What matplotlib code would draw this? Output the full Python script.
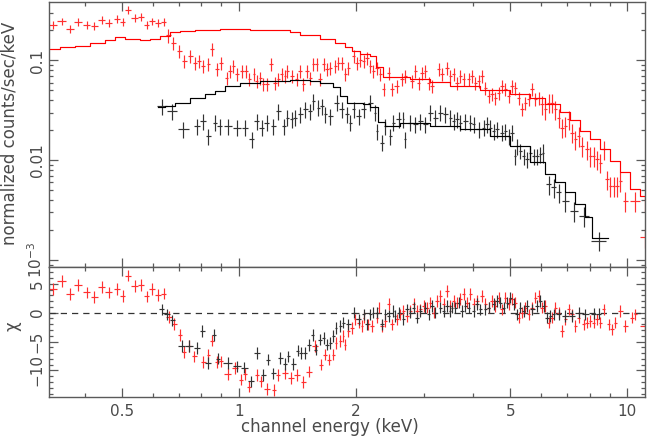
import numpy as np
import matplotlib
matplotlib.use("Agg")
import matplotlib.pyplot as plt
from matplotlib.ticker import FixedLocator, FixedFormatter, NullFormatter, MultipleLocator, LogLocator

# ---------------- data ----------------
# red spectrum: energy (keV), normalized counts/sec/keV
red_E = [0.331, 0.349, 0.367, 0.385, 0.405, 0.424, 0.443, 0.462, 0.484, 0.501, 0.519, 0.538, 0.558, 0.578, 0.598, 0.619, 0.639,
         0.657, 0.677, 0.702, 0.723, 0.748, 0.770, 0.789, 0.809, 0.834, 0.853, 0.876, 0.899, 0.930, 0.948, 0.967, 0.990, 1.016, 1.042, 1.063, 1.093,
         1.111, 1.133, 1.155, 1.179, 1.207, 1.238, 1.263, 1.288, 1.314, 1.332, 1.367, 1.408, 1.436, 1.465, 1.495, 1.524, 1.554, 1.586, 1.617, 1.650,
         1.683, 1.717,
         1.768, 1.803, 1.840, 1.876, 1.913, 1.971, 2.012, 2.051, 2.092, 2.134, 2.176, 2.219, 2.264, 2.309, 2.355, 2.426, 2.475, 2.550, 2.627, 2.678,
         2.787, 2.842, 2.898, 2.957, 3.015, 3.075, 3.137, 3.264, 3.330, 3.430, 3.498, 3.567, 3.640, 3.712, 3.785, 3.899, 3.978, 4.057, 4.138, 4.222,
         4.305, 4.390, 4.480, 4.569, 4.660, 4.755, 4.849, 4.945, 5.045, 5.145, 5.248, 5.354, 5.460, 5.568, 5.682, 5.794, 5.908, 6.029, 6.148, 6.270,
         6.396, 6.523, 6.652, 6.788, 6.922, 7.059, 7.203, 7.345, 7.491, 7.643, 7.873, 8.029, 8.188, 8.356, 8.521, 8.689, 8.867, 9.042, 9.220, 9.408,
         9.594, 9.881, 10.49, 11.13]
red_F = [0.229, 0.247, 0.207, 0.242, 0.229, 0.224, 0.257, 0.238, 0.261, 0.242, 0.324, 0.267, 0.274, 0.229, 0.247, 0.238, 0.242,
         0.178, 0.150, 0.124, 0.0984, 0.110, 0.0948, 0.0984, 0.0877, 0.0912, 0.129, 0.0813, 0.0948, 0.0671, 0.0782, 0.0877, 0.0724, 0.0782, 0.0782, 0.0646, 0.0724,
         0.0621, 0.0671, 0.0575, 0.0575, 0.0912, 0.0598, 0.0646, 0.0724, 0.0697, 0.0782, 0.0697, 0.0646, 0.0782, 0.0575, 0.0782, 0.0671, 0.0912, 0.0912, 0.0646, 0.0912,
         0.0813, 0.0845,
         0.0877, 0.0948, 0.0948, 0.0724, 0.0845, 0.110, 0.0948, 0.102, 0.0984, 0.106, 0.0877, 0.0782, 0.0845, 0.0724, 0.0513, 0.0753, 0.0513, 0.0553, 0.0646, 0.0697,
         0.0621, 0.0782, 0.0598, 0.0753, 0.0782, 0.0598, 0.0553, 0.0813, 0.0724, 0.0845, 0.0697, 0.0724, 0.0598, 0.0697, 0.0646, 0.0646, 0.0697, 0.0598, 0.0621, 0.0697,
         0.0533, 0.0440, 0.0457, 0.0424, 0.0475, 0.0553, 0.0513, 0.0440, 0.0553, 0.0533, 0.0424, 0.0324, 0.0378, 0.0407, 0.0513, 0.0407, 0.0424, 0.0363, 0.0324, 0.0378,
         0.0378, 0.0324, 0.0267, 0.0212, 0.0220, 0.0257, 0.0189, 0.0162, 0.0175, 0.0139, 0.0129, 0.0110, 0.0110, 0.0102, 0.00948, 0.0129, 0.00646, 0.00553, 0.00553, 0.00553,
         0.00621, 0.00392, 0.00392, 0.00169]

# black spectrum
blk_E = [0.632, 0.671, 0.719, 0.778, 0.806, 0.834, 0.867, 0.893, 0.938, 0.987, 1.036, 1.078, 1.111, 1.144, 1.179, 1.226, 1.263, 1.306, 1.332, 1.367,
         1.394, 1.436, 1.479, 1.524, 1.554, 1.601, 1.634, 1.666, 1.717,
         1.786, 1.840, 1.895, 1.932, 1.971, 2.031, 2.092, 2.176, 2.241, 2.264, 2.332, 2.378, 2.450, 2.498, 2.574, 2.651, 2.678, 2.759, 2.842, 2.928,
         3.015, 3.107, 3.201, 3.296, 3.396, 3.498, 3.567, 3.640, 3.712, 3.824, 3.939, 4.018, 4.138, 4.263, 4.350, 4.436, 4.523, 4.616, 4.755, 4.849,
         4.945, 5.045, 5.145, 5.196, 5.299, 5.404, 5.514, 5.623, 5.735, 5.852, 5.968, 6.064, 6.270, 6.458, 6.652, 6.922, 7.272, 7.718, 8.433]
blk_F = [0.0349, 0.0311, 0.0204, 0.0220, 0.0247, 0.0175, 0.0238, 0.0220, 0.0220, 0.0212, 0.0212, 0.0162, 0.0247, 0.0212, 0.0238, 0.0220, 0.0311, 0.0220, 0.0267, 0.0257,
         0.0267, 0.0288, 0.0324, 0.0311, 0.0392, 0.0337, 0.0349, 0.0288, 0.0277,
         0.0378, 0.0324, 0.0288, 0.0238, 0.0324, 0.0277, 0.0324, 0.0378, 0.0300, 0.0196, 0.0150, 0.0220, 0.0175, 0.0238, 0.0257, 0.0257, 0.0162, 0.0238, 0.0229, 0.0247,
         0.0229, 0.0300, 0.0267, 0.0300, 0.0288, 0.0267, 0.0247, 0.0257, 0.0238, 0.0247, 0.0238, 0.0229, 0.0204, 0.0212, 0.0229, 0.0212, 0.0196, 0.0204, 0.0189, 0.0196,
         0.0175, 0.0189, 0.0110, 0.0139, 0.0124, 0.0110, 0.0102, 0.0119, 0.0110, 0.0110, 0.0115, 0.0119, 0.00575, 0.00533, 0.00475, 0.00392, 0.00311, 0.00277, 0.00156]

# fractional 1-sigma errors of the spectra (energy break points, fractions)
red_err_breaks = [0.65, 6.0]
red_err_frac = [0.09, 0.15, 0.22]
blk_err_breaks = [6.0]
blk_err_frac = [0.18, 0.22]

# folded models (step curves)
red_mE = [0.324, 0.346, 0.378, 0.413, 0.452, 0.479, 0.508, 0.556, 0.590, 0.626, 0.664, 0.705, 0.770, 0.893, 1.067, 1.202, 1.353, 1.436,
          1.617, 1.768, 1.876, 1.955, 2.051, 2.176, 2.255, 2.350, 2.540, 2.759, 3.107, 3.498, 4.180, 4.994, 5.623, 6.148, 6.722, 7.131,
          7.567, 8.029, 8.521, 9.042, 9.594, 10.18, 10.80, 11.13]
red_mF = [0.131, 0.135, 0.141, 0.151, 0.162, 0.170, 0.166, 0.162, 0.166, 0.176, 0.191, 0.197, 0.204, 0.207, 0.204, 0.200, 0.191, 0.182,
          0.165, 0.151, 0.138, 0.123, 0.117, 0.110, 0.0851, 0.0676, 0.0687, 0.0646, 0.0603, 0.0550, 0.0501, 0.0457, 0.0417, 0.0363, 0.0302, 0.0251,
          0.0195, 0.0162, 0.0129, 0.00977, 0.00759, 0.00513, 0.00437, 0.00309]
blk_mE = [0.618, 0.645, 0.684, 0.748, 0.817, 0.867, 0.920, 1.006, 1.133, 1.353, 1.524, 1.617, 1.747, 1.821, 1.898, 2.088, 2.176, 2.281,
          2.378, 2.600, 3.107, 3.712, 4.436, 4.994, 5.623, 6.148, 6.523, 6.922, 7.345, 7.795, 8.126, 8.933]
blk_mF = [0.0339, 0.0347, 0.0372, 0.0417, 0.0457, 0.0490, 0.0550, 0.0589, 0.0617, 0.0631, 0.0617, 0.0598, 0.0537, 0.0440, 0.0372, 0.0363, 0.0339, 0.0240,
          0.0220, 0.0238, 0.0219, 0.0204, 0.0174, 0.0138, 0.00955, 0.00724, 0.00603, 0.00479, 0.00363, 0.00269, 0.00166, 0.00166]

# residuals (chi)
red_rE = [0.331, 0.349, 0.367, 0.385, 0.405, 0.424, 0.443, 0.462, 0.484, 0.501, 0.519, 0.538, 0.558, 0.578, 0.598, 0.619, 0.639,
          0.660, 0.681, 0.705, 0.723, 0.743, 0.767, 0.809, 0.834, 0.853, 0.876, 0.899, 0.935, 0.976, 1.012, 1.036, 1.061, 1.111, 1.139,
          1.179, 1.233, 1.263, 1.314, 1.361, 1.408, 1.465, 1.515, 1.570, 1.627, 1.666, 1.706, 1.750, 1.778, 1.821, 1.857,
          1.876, 1.913, 1.952, 1.991, 2.031, 2.072, 2.092, 2.154, 2.198, 2.264, 2.286, 2.332, 2.378, 2.426, 2.475, 2.550, 2.600, 2.651,
          2.705, 2.759, 2.814, 2.871, 2.928, 2.985, 3.047, 3.107, 3.168, 3.232, 3.296, 3.361, 3.430, 3.498, 3.567, 3.640, 3.712, 3.785,
          3.863, 3.939, 4.018, 4.099, 4.222, 4.305, 4.390, 4.480, 4.569, 4.660, 4.755, 4.849, 4.945, 5.045, 5.145, 5.248, 5.354, 5.460,
          5.568, 5.682, 5.794, 5.908, 6.029, 6.148, 6.270, 6.396, 6.523, 6.652, 6.788, 6.922, 7.059, 7.203, 7.345, 7.491, 7.718, 7.873,
          8.029, 8.188, 8.356, 8.521, 8.689, 8.950, 9.134, 9.314, 9.594, 9.881, 10.28, 10.49, 11.13]
red_chi = [4.07, 5.52, 3.2, 4.8, 3.5, 2.7, 4.4, 3.5, 4.07, 2.9, 6.4, 4.65, 4.8, 2.8, 4.07, 3.08, 3.3,
           -0.76, -1.92, -3.9, -6.8, -5.8, -7.56, -8.55, -7.27, -4.83, -8.55, -8.43, -10.6, -9.6, -11.6, -10.6, -12.8, -10.8, -11.9,
           -13.2, -13.4, -10.8, -10.5, -11.3, -10.8, -12.0, -10.2, -5.8, -9.0, -7.27, -8.14, -7.27, -5.23, -4.94, -4.07,
           -5.52, -3.2, -2.62, -1.16, -1.74, -2.33, -0.87, -2.03, -2.33, -0.87, 0.87, -2.33, -1.45, 1.45, -2.03, -1.16, -0.29, 0.29,
           -0.58, 0.29, 1.45, 0.29, 0.58, 1.16, 0.87, 1.74, 0.0, 2.03, 2.91, 1.45, 3.78, 1.16, 2.03, 1.74, 2.33, 3.2,
           1.74, 3.2, 1.45, 2.03, 2.91, 1.45, 0.87, 2.03, 1.16, 2.62, 0.58, 2.62, 1.45, 2.33, 1.74, -0.87, 0.0, 0.87,
           -0.29, 0.87, 2.62, 2.91, 0.87, 1.16, -1.74, -0.87, 0.87, 0.0, -3.2, -1.16, 0.58, -0.29, -2.33, -0.87, -2.03, -1.74,
           -1.45, -1.74, -1.16, -1.74, 0.58, -2.03, -2.91, -1.74, 0.29, -2.33, -0.87, -0.29, -2.33]
blk_rE = [0.632, 0.652, 0.673, 0.711, 0.743, 0.778, 0.804, 0.834, 0.864, 0.884, 0.935, 0.987, 1.032, 1.074, 1.111, 1.155, 1.186, 1.226,
          1.276, 1.314, 1.340, 1.380, 1.417, 1.445, 1.479, 1.515, 1.548, 1.577, 1.617, 1.650, 1.683, 1.717, 1.750, 1.775, 1.821, 1.857,
          1.913, 1.971, 2.031, 2.092, 2.134, 2.176, 2.219, 2.264, 2.332, 2.378, 2.426, 2.498, 2.524, 2.574, 2.651, 2.705, 2.759, 2.814,
          2.871, 2.928, 3.015, 3.075, 3.137, 3.201, 3.296, 3.361, 3.430, 3.498, 3.533, 3.603, 3.675, 3.748, 3.824, 3.901, 4.018, 4.099,
          4.180, 4.305, 4.390, 4.523, 4.616, 4.709, 4.803, 4.901, 4.994, 5.094, 5.196, 5.299, 5.404, 5.514, 5.682, 5.852, 5.968, 6.087,
          6.208, 6.331, 6.458, 6.652, 6.922, 7.203, 7.491, 7.795, 8.188, 8.433]
blk_chi = [0.58, -0.29, -1.34, -5.8, -5.8, -6.1, -3.2, -8.7, -3.9, -7.97, -8.7, -9.3, -9.5, -11.9, -7.0, -10.8, -8.14, -10.5,
           -7.85, -8.9, -7.56, -8.9, -6.57, -6.98, -6.98, -5.64, -3.9, -6.4, -4.65, -4.36, -5.52, -5.23, -4.07, -2.62, -2.33, -1.74,
           -2.03, 0.0, -1.16, -0.29, -2.03, -0.29, 0.0, 0.0, -2.03, -0.29, -0.58, 0.29, -0.58, 0.0, -1.16, 0.58, 0.0, 0.87,
           -0.87, 0.29, 0.87, -0.29, 1.16, 0.0, 0.87, 0.29, 1.16, 0.29, 0.87, 0.87, 1.74, 0.29, 1.16, 0.87, 0.29, 1.45,
           0.58, 0.58, 0.87, 1.45, 2.03, 1.74, 0.87, 1.74, 2.62, 1.45, -0.29, 0.87, 0.29, 1.16, 0.58, 1.16, 2.03, 1.16,
           -0.87, -0.58, -0.29, -0.29, -0.58, -0.58, 0.0, -0.29, -0.17, -0.17]

x_ticks_labelled = [0.5, 1, 2, 5, 10]
x_tick_text = ["0.5", "1", "2", "5", "10"]

# ---------------- helpers ----------------
def bin_halfwidths(e):
    e = np.asarray(e, float)
    le = np.log10(e)
    d = np.diff(le)
    left = np.concatenate([[d[0]], d])
    right = np.concatenate([d, [d[-1]]])
    h = 0.5 * np.minimum(left, right)
    return np.vstack([e - 10 ** (le - h), 10 ** (le + h) - e])

def frac_err(e, breaks, fracs):
    idx = np.searchsorted(breaks, e)
    return np.asarray(fracs)[idx]

# ---------------- figure ----------------
TXT = "#4a4a4a"
FRAME = "#5a5a5a"
RED = "#ff3030"
BLK = "#333333"
plt.rcParams["font.family"] = ["DejaVu Sans"]
plt.rcParams["font.size"] = 11
plt.rcParams["mathtext.default"] = "regular"

fig = plt.figure(figsize=(6.5, 4.36), dpi=100)
ax1 = fig.add_axes([0.07538, 0.38761, 0.91692, 0.60894])
ax2 = fig.add_axes([0.07538, 0.08945, 0.91692, 0.29817], sharex=ax1)

rE = np.array(red_E); rF = np.array(red_F)
bE = np.array(blk_E); bF = np.array(blk_F)

ax1.errorbar(rE, rF, xerr=bin_halfwidths(rE), yerr=rF * frac_err(rE, red_err_breaks, red_err_frac),
             fmt="none", ecolor=RED, elinewidth=0.85, capsize=0)
ax1.errorbar(bE, bF, xerr=bin_halfwidths(bE), yerr=bF * frac_err(bE, blk_err_breaks, blk_err_frac),
             fmt="none", ecolor=BLK, elinewidth=0.85, capsize=0)
ax1.plot(red_mE, red_mF, drawstyle="steps-post", color="#ff0000", lw=0.85)
ax1.plot(blk_mE, blk_mF, drawstyle="steps-post", color="#000000", lw=0.85)

ax2.axhline(0, color="#333333", lw=0.9, ls=(0, (5, 4)))
ax2.errorbar(red_rE, red_chi, xerr=bin_halfwidths(red_rE), yerr=1.0,
             fmt="none", ecolor=RED, elinewidth=0.85, capsize=0)
ax2.errorbar(blk_rE, blk_chi, xerr=bin_halfwidths(blk_rE), yerr=1.0,
             fmt="none", ecolor=BLK, elinewidth=0.85, capsize=0)

for ax in (ax1, ax2):
    ax.set_xscale("log")
    for s in ax.spines.values():
        s.set_color(FRAME)
        s.set_linewidth(1.0)
    ax.tick_params(which="both", direction="in", top=True, right=True, color=FRAME, width=0.9,
                   labelcolor=TXT, labelsize=11)
    ax.tick_params(which="major", length=6.5)
    ax.tick_params(which="minor", length=3.2)

ax1.set_xlim(0.324, 11.1)
ax1.set_yscale("log")
ax1.set_ylim(8.5e-4, 0.39)
ax1.yaxis.set_major_locator(FixedLocator([1e-3, 1e-2, 1e-1]))
ax1.yaxis.set_major_formatter(FixedFormatter(["10$^{-3}$", "0.01", "0.1"]))
ax1.yaxis.set_minor_locator(LogLocator(base=10, subs=np.arange(2, 10)))
ax1.yaxis.set_minor_formatter(NullFormatter())
ax1.tick_params(axis="x", which="both", labelbottom=False)
for lab in ax1.get_yticklabels():
    lab.set_rotation(90)
    lab.set_va("center")
ax1.tick_params(axis="y", pad=3)

ax2.xaxis.set_major_locator(FixedLocator(x_ticks_labelled))
ax2.xaxis.set_major_formatter(FixedFormatter(x_tick_text))
ax2.xaxis.set_minor_locator(FixedLocator([0.4, 0.6, 0.7, 0.8, 0.9, 3, 4, 6, 7, 8, 9]))
ax2.xaxis.set_minor_formatter(NullFormatter())
ax2.tick_params(axis="x", pad=5)
ax2.set_ylim(-14.6, 7.9)
ax2.yaxis.set_major_locator(FixedLocator([-10, -5, 0, 5]))
ax2.yaxis.set_major_formatter(FixedFormatter(["\u221210", "\u22125", "0", "5"]))
ax2.yaxis.set_minor_locator(MultipleLocator(1))
for lab in ax2.get_yticklabels():
    lab.set_rotation(90)
    lab.set_va("center")
ax2.tick_params(axis="y", pad=3)

fig.text(10 / 650, 1 - 133 / 436, "normalized counts/sec/keV", rotation=90, ha="center", va="center",
         color=TXT, fontsize=12)
fig.text(12 / 650, 1 - 326 / 436, "\u03c7", rotation=90, ha="center", va="center", color=TXT, fontsize=12)
fig.text(330 / 650, 1 - 427 / 436, "channel energy (keV)", ha="center", va="center", color=TXT, fontsize=12)

fig.savefig("out.png", dpi=100)
